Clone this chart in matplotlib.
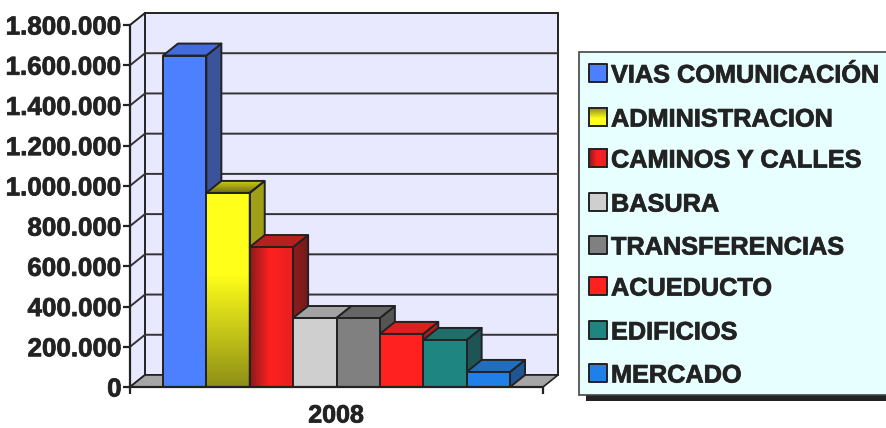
"""Barras 3D del gasto 2008 por rubro."""

import matplotlib.patheffects as pe
import matplotlib.pyplot as plt
import numpy as np
from matplotlib.colors import LinearSegmentedColormap
from matplotlib.patches import Polygon, Rectangle

plt.rcParams["font.family"] = ["Liberation Sans", "DejaVu Sans"]

W, H = 886, 428
DARK = "#222222"
HEAVY = [pe.withStroke(linewidth=0.6, foreground="#333333")]

# datos
categories = [
    "VIAS COMUNICACIÓN",
    "ADMINISTRACION",
    "CAMINOS Y CALLES",
    "BASURA",
    "TRANSFERENCIAS",
    "ACUEDUCTO",
    "EDIFICIOS",
    "MERCADO",
]
values = [1648000, 965000, 696000, 343000, 343000, 264000, 234000, 75000]
y_ticks = [0, 200000, 400000, 600000, 800000, 1000000, 1200000, 1400000, 1600000, 1800000]
x_label = "2008"

# colores: front, side, top. Una tupla es un degradado (eje, paradas de menor a mayor)
YELLOW_FRONT = ("y", [(0, "#8F8F18"), (0.58, "#FFFF1A"), (1, "#FFFF1A")])
RED_FRONT = ("x", [(0, "#8B1A1A"), (0.45, "#FF2020"), (1, "#E62020")])
styles = [
    ("#4D80FF", "#3A539B", "#436BDC"),
    (YELLOW_FRONT, "#A0A018", ("y", [(0, "#6E6E12"), (1, "#CCCC14")])),
    (RED_FRONT, ("x", [(0, "#8E1C1C"), (1, "#771A1A")]), "#B82020"),
    ("#CFCFCF", "#8A8A8A", "#A3A3A3"),
    ("#808080", "#555555", "#666666"),
    ("#FF2020", "#B01C1C", "#DC2020"),
    ("#1F8580", "#1F5454", "#1F6E6A"),
    ("#2080E8", "#1F5590", "#206EBC"),
]


def face(ax, pts, fill):
    """Dibuja una cara, lisa o con degradado recortado al poligono."""
    if isinstance(fill, str):
        ax.add_patch(Polygon(pts, closed=True, fc=fill, ec=DARK, lw=1.4, joinstyle="round", clip_on=False))
        return
    axis, stops = fill
    cmap = LinearSegmentedColormap.from_list("g", stops)
    ramp = np.linspace(0, 1, 128)
    grad = ramp[None, :] if axis == "x" else ramp[:, None]
    xs, ys = zip(*pts)
    outline = Polygon(pts, closed=True, fc="none", ec=DARK, lw=1.4, clip_on=False, zorder=ax.get_zorder() + 3)
    ax.add_patch(outline)
    im = ax.imshow(
        grad,
        cmap=cmap,
        origin="lower",
        aspect="auto",
        extent=(min(xs), max(xs), min(ys), max(ys)),
        vmin=0,
        vmax=1,
        zorder=2,
    )
    im.set_clip_path(outline)


fig = plt.figure(figsize=(W / 100, H / 100), dpi=100)
ax = fig.add_axes([130 / W, 1 - 387 / H, 413 / W, 362 / H])
ax.patch.set_alpha(0)
ax.set_xlim(-0.76, 8.76)
ax.set_ylim(0, y_ticks[-1])

# profundidad: 15 px a la derecha y 12 px hacia arriba
dx = 15 / (413 / 9.52)
dy = 12 * y_ticks[-1] / 362
x0, x1 = ax.get_xlim()
top = y_ticks[-1]

# paredes y piso
wall = dict(fc="#E8E8FF", ec=DARK, lw=1.4, clip_on=False, zorder=0.5)
ax.add_patch(Polygon([(x0, 0), (x0 + dx, dy), (x1 + dx, dy), (x1 + dx, top + dy), (x0 + dx, top + dy), (x0, top)], **wall))
ax.plot([x0 + dx, x0 + dx], [dy, top + dy], color=DARK, lw=1.4, clip_on=False, zorder=0.6)
for v in y_ticks[1:-1]:
    ax.plot([x0, x0 + dx, x1 + dx], [v, v + dy, v + dy], color="#333333", lw=1.4, clip_on=False, zorder=0.7)
ax.add_patch(Polygon([(x0, 0), (x0 + dx, dy), (x1 + dx, dy), (x1, 0)], fc="#A6A6A6", ec=DARK, lw=1.2, clip_on=False, zorder=0.8))

# barras de izquierda a derecha para que tapen el lateral anterior
for i, (v, (front, side, cap)) in enumerate(zip(values, styles)):
    l, r = i, i + 1
    z = 2 + i * 0.1
    n_before = len(ax.patches)
    face(ax, [(r, 0), (r + dx, dy), (r + dx, v + dy), (r, v)], side)
    face(ax, [(l, v), (r, v), (r + dx, v + dy), (l + dx, v + dy)], cap)
    face(ax, [(l, 0), (r, 0), (r, v), (l, v)], front)
    for art in ax.patches[n_before:]:
        art.set_zorder(z + 0.05)
    for im in ax.images:
        if im.get_zorder() == 2:
            im.set_zorder(z)

# ejes
for name in ("top", "right"):
    ax.spines[name].set_visible(False)
for name in ("left", "bottom"):
    ax.spines[name].set_color(DARK)
    ax.spines[name].set_linewidth(1.6)
    ax.spines[name].set_zorder(10)
ax.set_yticks(y_ticks)
ax.set_yticklabels([f"{v:,}".replace(",", ".") for v in y_ticks], fontsize=18.7, fontweight="bold", color=DARK, path_effects=HEAVY)
ax.tick_params(axis="y", length=5, width=1.6, color=DARK, pad=1)
ax.set_xticks([x0, x1])
ax.set_xticklabels([])
ax.tick_params(axis="x", length=5, width=1.6, color=DARK)
fig.text(336 / W, 1 - 415.5 / H, x_label, ha="center", va="center", fontsize=18, fontweight="bold", color=DARK, path_effects=HEAVY)

# leyenda, en coordenadas de pixel
lax = fig.add_axes([0, 0, 1, 1])
lax.set_xlim(0, W)
lax.set_ylim(H, 0)
lax.axis("off")
lax.patch.set_alpha(0)
lax.add_patch(Rectangle((586, 60), 320, 341, fc=DARK, ec="none", zorder=0.2))
lax.add_patch(Rectangle((579.5, 51.5), 320, 343.5, fc="#E8FFFF", ec="#444444", lw=1.2, zorder=0.3))
legend_y = [73, 117, 158, 202, 245, 286, 330, 373]
for name, ly, (front, _, _) in zip(categories, legend_y, styles):
    face(lax, [(589, ly - 9), (607, ly - 9), (607, ly + 9), (589, ly + 9)], front)
    lax.text(611, ly, name, ha="left", va="center_baseline", fontsize=18.2, fontweight="bold", color=DARK, zorder=6, path_effects=HEAVY)

fig.savefig("out.png", dpi=100)
